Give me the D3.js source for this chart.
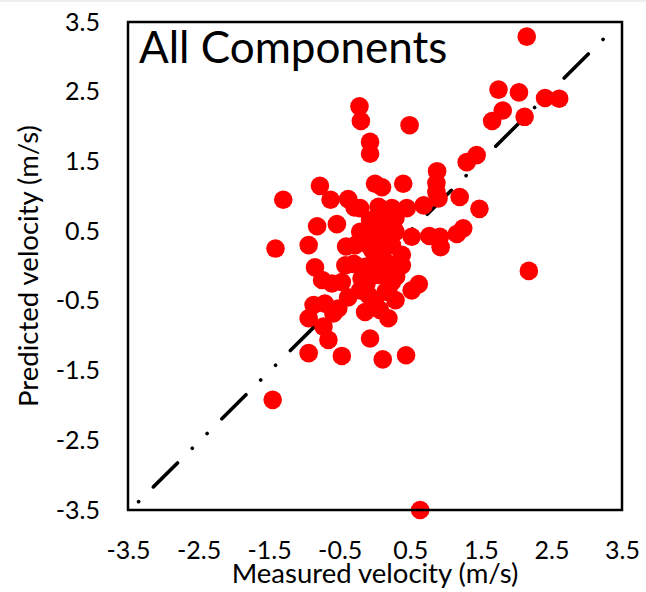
<!DOCTYPE html>
<html>
<head>
<meta charset="utf-8">
<script src="https://cdn.jsdelivr.net/npm/d3@7"></script>
<style>
  body { margin: 0; background: #fff; }
  svg text { font-family: Lato, "Open Sans", sans-serif; fill: #000; }
</style>
</head>
<body>
<div class="container"></div>
<script>
// measured vs predicted velocity (m/s)
const measured = [
  2.15, 1.75, 2.04, 2.41, 2.61, 1.81, 1.66, 2.12,
  -0.22, -0.20, 0.49, -0.07, -0.07, 1.44, 1.30, 0.88, 0.87, 0.87,
  0.00, 0.10, 0.40, -0.78, -1.30, -0.63, -0.38, -0.29, -0.21, 0.05,
  0.24, 0.45, 0.69, 0.90, 1.20, 1.48, 1.25, 1.16, 0.93, 0.92, 0.77,
  0.52, 0.29, 0.00, -0.54, -0.82, -1.41, -0.94, -0.41, -0.09, 0.15,
  0.38, 0.38, 0.00, -0.30, -0.85, -0.75, -0.61, -0.47, -0.19, 0.05,
  0.24, 0.62, 0.52, 0.19, -0.38, -0.09, 0.15, -0.87, -0.71, -0.59,
  -0.94, -0.73, -0.66, -0.94, -0.47, -0.14, -0.52, 0.19, -0.07, 0.11,
  0.44, -1.45, 0.64, 2.18,
  -0.07, 0.15, 0.08, -0.14, 0.22, -0.07, 0.15, -0.21, 0.00, 0.29,
  0.07, -0.04, 0.24, -0.21, -0.28, -0.42, 0.29,
  0.10, -0.15, 0.20, -0.12, 0.30, 0.10
];
const predicted = [
  3.29, 2.53, 2.49, 2.41, 2.40, 2.23, 2.08, 2.14,
  2.29, 2.08, 2.02, 1.78, 1.61, 1.59, 1.49, 1.36, 1.19, 1.06,
  1.18, 1.13, 1.18, 1.15, 0.95, 0.95, 0.96, 0.84, 0.83, 0.85,
  0.83, 0.83, 0.87, 0.97, 0.99, 0.82, 0.54, 0.46, 0.27, 0.42, 0.43,
  0.42, 0.49, 0.54, 0.60, 0.57, 0.25, 0.30, 0.28, 0.30, 0.30,
  0.16, 0.01, 0.11, 0.03, -0.02, -0.20, -0.25, -0.23, -0.18, -0.13,
  -0.23, -0.26, -0.35, -0.33, -0.45, -0.42, -0.37, -0.56, -0.54, -0.68,
  -0.75, -0.87, -1.06, -1.25, -1.29, -0.66, -0.61, -0.75, -1.04, -1.34,
  -1.28, -1.92, -3.50, -0.07,
  0.66, 0.66, 0.44, -0.01, 0.01, -0.06, 0.06, -0.35, -0.49, -0.49,
  -0.63, 0.23, 0.30, 0.49, 0.30, 0.01, 0.69,
  -0.05, 0.40, 0.60, -0.25, -0.15, 0.20
];
// 1:1 reference line
const lineX = [-3.35, 3.28];
const lineY = [-3.38, 3.30];
const tickValues = [-3.5, -2.5, -1.5, -0.5, 0.5, 1.5, 2.5, 3.5];

const w = 646;
const h = 592;
const plotLeft = 128, plotRight = 622, plotTop = 22, plotBottom = 510;

const svg = d3.select(".container")
  .append("svg")
  .attr("width", w)
  .attr("height", h);

// thin grey strip at the very top of the picture
svg.append("rect").attr("x", 0).attr("y", 0).attr("width", w).attr("height", 2).attr("fill", "#eeeeee");

const xScale = d3.scaleLinear().domain([-3.5, 3.5]).range([plotLeft, plotRight]);
const yScale = d3.scaleLinear().domain([-3.5, 3.5]).range([plotBottom, plotTop]);

// axes: labels only, no ticks or domain line
const fmt = d => d3.format(".1f")(d).replace("\u2212", "-");
const xAxis = d3.axisBottom(xScale).tickValues(tickValues).tickSize(0).tickPadding(31).tickFormat(fmt);
const yAxis = d3.axisLeft(yScale).tickValues(tickValues).tickSize(0).tickPadding(28).tickFormat(fmt);

const gx = svg.append("g").attr("transform", `translate(0, ${plotBottom})`).call(xAxis);
const gy = svg.append("g").attr("transform", `translate(${plotLeft}, 0)`).call(yAxis);
[gx, gy].forEach(g => {
  g.select(".domain").remove();
  g.selectAll("text")
    .style("font-family", "Lato, sans-serif")
    .style("font-size", "25px")
    .attr("fill", "#000");
});

// dash-dot-dot diagonal
const line = d3.line().x(d => xScale(d[0])).y(d => yScale(d[1]));
svg.append("path")
  .datum(lineX.map((x, i) => [x, lineY[i]]))
  .attr("d", line)
  .attr("fill", "none")
  .attr("stroke", "#000")
  .attr("stroke-width", 3.6)
  .attr("stroke-linecap", "round")
  .attr("stroke-dasharray", "0.1 20.8 34 20.8 0.1 20.8");

// scatter points
svg.append("g")
  .selectAll("circle")
  .data(measured.map((m, i) => [m, predicted[i]]))
  .enter()
  .append("circle")
  .attr("cx", d => xScale(d[0]))
  .attr("cy", d => yScale(d[1]))
  .attr("r", 9.3)
  .attr("fill", "#ff0000");

// frame around the plot
svg.append("rect")
  .attr("x", plotLeft)
  .attr("y", plotTop)
  .attr("width", plotRight - plotLeft)
  .attr("height", plotBottom - plotTop)
  .attr("fill", "none")
  .attr("stroke", "#000")
  .attr("stroke-width", 2.5);

// title inside the frame
svg.append("text")
  .attr("x", 139)
  .attr("y", 63)
  .style("font-size", "44px")
  .text("All Components");

// axis titles
svg.append("text")
  .attr("x", (plotLeft + plotRight) / 2)
  .attr("y", 583)
  .attr("text-anchor", "middle")
  .style("font-size", "27.5px")
  .text("Measured velocity (m/s)");

svg.append("text")
  .attr("transform", `translate(38, ${(plotTop + plotBottom) / 2}) rotate(-90)`)
  .attr("text-anchor", "middle")
  .style("font-size", "27.5px")
  .text("Predicted velocity (m/s)");
</script>
</body>
</html>
